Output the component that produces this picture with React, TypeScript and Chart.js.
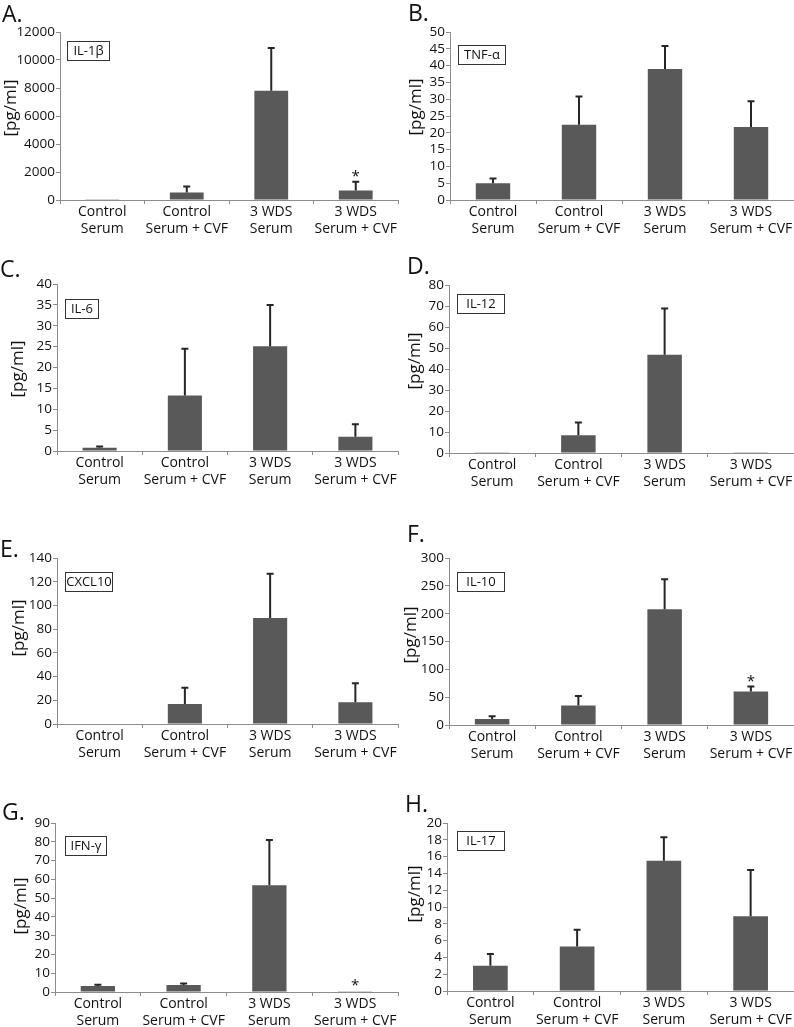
import React, { useEffect, useRef } from "react";
import { Chart, registerables } from "chart.js";

Chart.register(...registerables);

// ---------- data ----------
const categories = [
  ["Control", "Serum"],
  ["Control", "Serum + CVF"],
  ["3 WDS", "Serum"],
  ["3 WDS", "Serum + CVF"],
];

const il1bMean = [60, 530, 7800, 680];
const il1bErr = [null, 430, 3050, 620];
const il1bSig = [false, false, false, true];
const il1bTicks = [0, 2000, 4000, 6000, 8000, 10000, 12000];

const tnfMean = [5.0, 22.4, 39.0, 21.7];
const tnfErr = [1.4, 8.4, 6.8, 7.7];
const tnfTicks = [0, 5, 10, 15, 20, 25, 30, 35, 40, 45, 50];

const il6Mean = [0.8, 13.3, 25.1, 3.4];
const il6Err = [0.3, 11.2, 9.9, 3.0];
const il6Ticks = [0, 5, 10, 15, 20, 25, 30, 35, 40];

const il12Mean = [0.4, 8.5, 46.8, 0.4];
const il12Err = [null, 6.0, 22.0, null];
const il12Ticks = [0, 10, 20, 30, 40, 50, 60, 70, 80];

const cxcl10Mean = [0, 16.8, 89.5, 18.3];
const cxcl10Err = [null, 13.7, 37.3, 16.0];
const cxcl10Ticks = [0, 20, 40, 60, 80, 100, 120, 140];

const il10Mean = [11, 35, 208, 60];
const il10Err = [4.5, 17, 54, 9];
const il10Sig = [false, false, false, true];
const il10Ticks = [0, 50, 100, 150, 200, 250, 300];

const ifngMean = [3.2, 3.7, 56.8, 0.4];
const ifngErr = [0.6, 0.8, 24.2, null];
const ifngSig = [false, false, false, true];
const ifngTicks = [0, 10, 20, 30, 40, 50, 60, 70, 80, 90];

const il17Mean = [3.0, 5.3, 15.5, 8.9];
const il17Err = [1.4, 2.0, 2.8, 5.5];
const il17Ticks = [0, 2, 4, 6, 8, 10, 12, 14, 16, 18, 20];

const yTitle = "[pg/ml]";

// ---------- layout (page pixel positions) ----------
const panels = [
  { letter: "A.", name: "IL-1β", mean: il1bMean, err: il1bErr, sig: il1bSig, ticks: il1bTicks,
    left: 0, top: 0, w: 399, h: 255, ax: 60, at: 32, ab: 200, ar: 398,
    lx: 2, ly: 22, bx: 67, by: 50, bw: 42, tx: 11, ty: 108 },
  { letter: "B.", name: "TNF-α", mean: tnfMean, err: tnfErr, sig: null, ticks: tnfTicks,
    left: 399, top: 0, w: 395, h: 255, ax: 450, at: 32, ab: 200, ar: 794,
    lx: 408, ly: 21, bx: 458, by: 54, bw: 47, tx: 416, ty: 107 },
  { letter: "C.", name: "IL-6", mean: il6Mean, err: il6Err, sig: null, ticks: il6Ticks,
    left: 0, top: 255, w: 399, h: 255, ax: 57, at: 284, ab: 451, ar: 398,
    lx: 0, ly: 277, bx: 65, by: 308, bw: 33, tx: 18, ty: 369 },
  { letter: "D.", name: "IL-12", mean: il12Mean, err: il12Err, sig: null, ticks: il12Ticks,
    left: 399, top: 255, w: 395, h: 255, ax: 449, at: 285, ab: 453, ar: 794,
    lx: 407, ly: 274, bx: 457, by: 303, bw: 47, tx: 415, ty: 361 },
  { letter: "E.", name: "CXCL10", mean: cxcl10Mean, err: cxcl10Err, sig: null, ticks: cxcl10Ticks,
    left: 0, top: 510, w: 399, h: 255, ax: 57, at: 558, ab: 724, ar: 398,
    lx: 0, ly: 557, bx: 65, by: 581, bw: 47, tx: 19, ty: 628 },
  { letter: "F.", name: "IL-10", mean: il10Mean, err: il10Err, sig: il10Sig, ticks: il10Ticks,
    left: 399, top: 510, w: 395, h: 255, ax: 449, at: 558, ab: 725, ar: 794,
    lx: 407, ly: 542, bx: 457, by: 581, bw: 47, tx: 411, ty: 635 },
  { letter: "G.", name: "IFN-γ", mean: ifngMean, err: ifngErr, sig: ifngSig, ticks: ifngTicks,
    left: 0, top: 765, w: 399, h: 262, ax: 55, at: 823, ab: 992, ar: 398,
    lx: 2, ly: 820, bx: 65, by: 845, bw: 41, tx: 21, ty: 906 },
  { letter: "H.", name: "IL-17", mean: il17Mean, err: il17Err, sig: null, ticks: il17Ticks,
    left: 399, top: 765, w: 395, h: 262, ax: 447, at: 823, ab: 991, ar: 794,
    lx: 405, ly: 812, bx: 457, by: 840, bw: 47, tx: 415, ty: 894 },
];

const FONT = "'Open Sans', 'Noto Sans', sans-serif";
const BAR = "#595959";
const AXIS = "#8c8c8c";
const TEXT = "#111111";

function Panel({ p }: { p: any }) {
  const ref = useRef<HTMLCanvasElement>(null);

  useEffect(() => {
    const cv = ref.current;
    if (!cv) return;

    const overlay = {
      id: "overlay",
      afterDatasetsDraw(chart: any) {
        const ctx = chart.ctx;
        const meta = chart.getDatasetMeta(0);
        const ys = chart.scales.y;
        ctx.save();
        ctx.strokeStyle = "#262626";
        ctx.lineWidth = 2;
        p.mean.forEach((m: number, i: number) => {
          const x = meta.data[i].x;
          const e = p.err[i];
          let topY = ys.getPixelForValue(m);
          if (e != null) {
            const yb = ys.getPixelForValue(m);
            const yt = ys.getPixelForValue(m + e);
            ctx.beginPath();
            ctx.moveTo(x, yb);
            ctx.lineTo(x, yt);
            ctx.moveTo(x - 3.5, yt);
            ctx.lineTo(x + 3.5, yt);
            ctx.stroke();
            topY = yt;
          }
          if (p.sig && p.sig[i]) {
            ctx.fillStyle = TEXT;
            ctx.font = `15px ${FONT}`;
            ctx.textAlign = "center";
            ctx.textBaseline = "alphabetic";
            ctx.fillText("*", x, topY - 1);
          }
        });
        ctx.restore();
      },
      afterDraw(chart: any) {
        const ctx = chart.ctx;
        ctx.save();
        // panel letter
        ctx.fillStyle = TEXT;
        ctx.font = `23px ${FONT}`;
        ctx.textAlign = "left";
        ctx.textBaseline = "alphabetic";
        ctx.fillText(p.letter, p.lx - p.left, p.ly - p.top);
        // cytokine name box
        const bh = 19;
        const bx = p.bx - p.left;
        const byTop = p.by - bh / 2 - p.top;
        ctx.fillStyle = "#ffffff";
        ctx.fillRect(bx, byTop, p.bw, bh);
        ctx.strokeStyle = "#333333";
        ctx.lineWidth = 1;
        ctx.strokeRect(Math.round(bx) + 0.5, Math.round(byTop) + 0.5, p.bw, bh);
        ctx.fillStyle = TEXT;
        ctx.font = `13px ${FONT}`;
        ctx.textAlign = "center";
        ctx.textBaseline = "middle";
        ctx.fillText(p.name, bx + p.bw / 2 + 0.5, byTop + bh / 2 + 1);
        // y title
        ctx.translate(p.tx - p.left, p.ty - p.top);
        ctx.rotate(-Math.PI / 2);
        ctx.font = `17px ${FONT}`;
        ctx.textAlign = "center";
        ctx.textBaseline = "middle";
        ctx.fillText(yTitle, 0, 0);
        ctx.restore();
      },
    };

    const t = p.ticks;
    const chart = new Chart(cv, {
      type: "bar",
      data: {
        labels: categories,
        datasets: [
          {
            data: p.mean,
            backgroundColor: BAR,
            borderWidth: 0,
            barPercentage: 0.4,
            categoryPercentage: 1.0,
          },
        ],
      },
      options: {
        responsive: false,
        maintainAspectRatio: false,
        animation: false,
        devicePixelRatio: 1,
        layout: {
          padding: { left: 0, top: p.at - p.top, right: p.left + p.w - p.ar, bottom: 0 },
        },
        plugins: {
          legend: { display: false },
          tooltip: { enabled: false },
          title: { display: false },
        },
        scales: {
          x: {
            type: "category",
            ticks: {
              font: { family: FONT, size: 14, lineHeight: 1.18 },
              color: TEXT,
              padding: 0,
              maxRotation: 0,
              minRotation: 0,
              autoSkip: false,
            },
            grid: {
              display: true,
              drawOnChartArea: false,
              drawTicks: true,
              tickLength: 4,
              color: AXIS,
              offset: true,
            },
            border: { display: true, color: AXIS, width: 1 },
            afterFit: (s: any) => {
              s.height = p.top + p.h - p.ab;
            },
          },
          y: {
            type: "linear",
            min: t[0],
            max: t[t.length - 1],
            ticks: {
              stepSize: t[1] - t[0],
              autoSkip: false,
              font: { family: FONT, size: 13.5, lineHeight: 1.2 },
              color: TEXT,
              padding: 1,
              format: { useGrouping: false },
            },
            afterBuildTicks: (s: any) => {
              s.ticks = t.map((v: number) => ({ value: v }));
            },
            grid: {
              display: true,
              drawOnChartArea: false,
              drawTicks: true,
              tickLength: 4,
              color: AXIS,
            },
            border: { display: true, color: AXIS, width: 1 },
            afterFit: (s: any) => {
              s.width = p.ax - p.left;
            },
          },
        },
      },
      plugins: [overlay],
    } as any);

    return () => chart.destroy();
  }, [p]);

  return (
    <canvas
      ref={ref}
      width={p.w}
      height={p.h}
      style={{ position: "absolute", left: p.left, top: p.top, width: p.w, height: p.h }}
    />
  );
}

export default function App() {
  return (
    <div
      style={{
        position: "fixed",
        left: 0,
        top: 0,
        width: 794,
        height: 1027,
        background: "#ffffff",
        overflow: "hidden",
      }}
    >
      {panels.map((p) => (
        <Panel key={p.letter} p={p} />
      ))}
    </div>
  );
}
